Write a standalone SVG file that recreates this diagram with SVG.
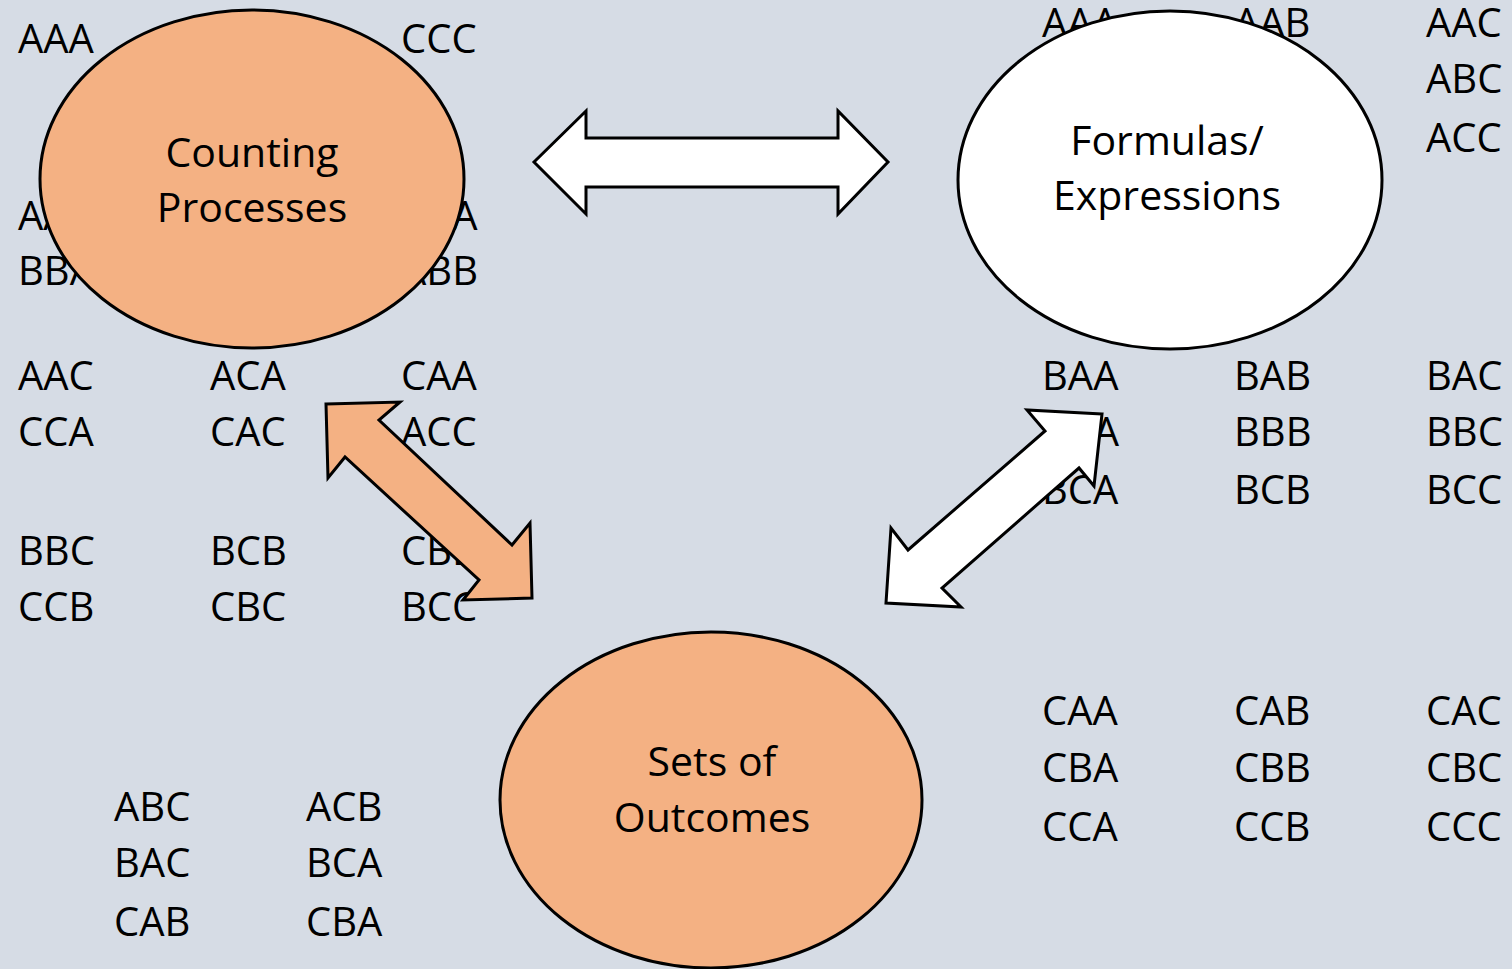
<svg xmlns="http://www.w3.org/2000/svg" width="1512" height="969" viewBox="0 0 1512 969">
  <style>
    .grid { font-family: "Open Sans", "Liberation Sans", sans-serif; font-size: 40px; fill: #000; }
    .label { font-family: "Open Sans", "Liberation Sans", sans-serif; font-size: 41px; fill: #000; text-anchor: middle; }
    .shape { stroke: #000; stroke-width: 3; stroke-linejoin: miter; }
    .orange { fill: #F4B183; }
    .white { fill: #FFFFFF; }
  </style>
  <rect width="1512" height="969" fill="#D6DCE5"/>

  <!-- outcome listings (entries partly covered by the ellipses and arrows) -->
  <g id="outcomes-text" class="grid">
    <!-- top-left block -->
    <text x="18" y="53">AAA</text><text x="401" y="53">CCC</text>
    <text x="18" y="230">AAB</text><text x="401" y="230">BAA</text>
    <text x="18" y="285">BBA</text><text x="401" y="285">ABB</text>
    <text x="18" y="390">AAC</text><text x="210" y="390">ACA</text><text x="401" y="390">CAA</text>
    <text x="18" y="446">CCA</text><text x="210" y="446">CAC</text><text x="401" y="446">ACC</text>
    <text x="18" y="565">BBC</text><text x="210" y="565">BCB</text><text x="401" y="565">CBB</text>
    <text x="18" y="621">CCB</text><text x="210" y="621">CBC</text><text x="401" y="621">BCC</text>
    <!-- bottom-left block -->
    <text x="114" y="821">ABC</text><text x="306" y="821">ACB</text>
    <text x="114" y="877">BAC</text><text x="306" y="877">BCA</text>
    <text x="114" y="936">CAB</text><text x="306" y="936">CBA</text>
    <!-- right blocks -->
    <text x="1042" y="37">AAA</text><text x="1234" y="37">AAB</text><text x="1426" y="37">AAC</text>
    <text x="1426" y="93">ABC</text>
    <text x="1426" y="152">ACC</text>
    <text x="1042" y="390">BAA</text><text x="1234" y="390">BAB</text><text x="1426" y="390">BAC</text>
    <text x="1042" y="446">BBA</text><text x="1234" y="446">BBB</text><text x="1426" y="446">BBC</text>
    <text x="1042" y="504">BCA</text><text x="1234" y="504">BCB</text><text x="1426" y="504">BCC</text>
    <text x="1042" y="725">CAA</text><text x="1234" y="725">CAB</text><text x="1426" y="725">CAC</text>
    <text x="1042" y="782">CBA</text><text x="1234" y="782">CBB</text><text x="1426" y="782">CBC</text>
    <text x="1042" y="841">CCA</text><text x="1234" y="841">CCB</text><text x="1426" y="841">CCC</text>
  </g>

  <!-- two-headed block arrows -->
  <g id="connectors">
    <polygon class="shape white" points="534,162 586,111 586,138 838,138 838,111 888,162 838,214 838,187 586,187 586,214"/>
    <polygon class="shape orange" points="326,404 400,402 379,420 512,545 530,523 532,598 463,600 479,580 345,457 328,478"/>
    <polygon class="shape white" points="1102,414 1027,410 1045,431 908,550 891,528 886,603 961,607 942,588 1079,468 1094,486"/>
  </g>

  <g id="counting-processes">
    <ellipse class="shape orange" cx="252" cy="179" rx="212" ry="169"/>
    <text class="label" x="252" y="167">Counting</text>
    <text class="label" x="252" y="222">Processes</text>
  </g>

  <g id="formulas-expressions">
    <ellipse class="shape white" cx="1170" cy="180" rx="212" ry="169"/>
    <text class="label" x="1167" y="155">Formulas/</text>
    <text class="label" x="1167" y="210">Expressions</text>
  </g>

  <g id="sets-of-outcomes">
    <ellipse class="shape orange" cx="711" cy="800" rx="211" ry="168"/>
    <text class="label" x="712" y="776">Sets of</text>
    <text class="label" x="712" y="832">Outcomes</text>
  </g>
</svg>
